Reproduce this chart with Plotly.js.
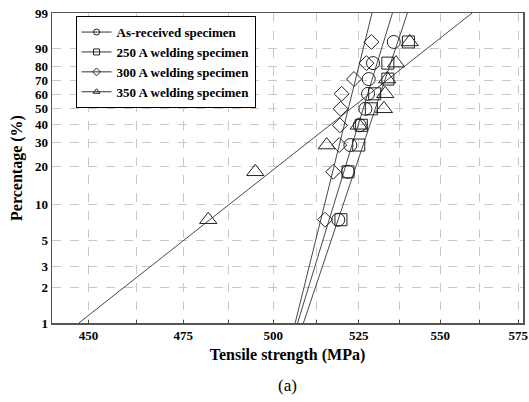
<!DOCTYPE html>
<html>
<head>
<meta charset="utf-8">
<script src="https://cdn.plot.ly/plotly-3.0.1.min.js"></script>
<style>html,body{margin:0;padding:0;background:#fff;}#chart{width:529px;height:402px;}</style>
</head>
<body>
<div id="chart"></div>
<script>
// Median ranks (%) of the nine specimens in each group
const ranks = [7.45, 18.09, 28.72, 39.36, 50, 60.64, 71.28, 81.91, 92.55];
// Tensile strength (MPa) per group, sorted
const asReceived = [518.9, 521.8, 522.5, 525.3, 527.0, 527.8, 528.0, 529.3, 535.6];
const weld250 = [519.7, 521.8, 525.0, 525.8, 528.8, 529.8, 533.8, 533.8, 540.1];
const weld300 = [515.0, 517.4, 519.2, 519.4, 519.6, 519.9, 523.6, 527.3, 528.8];
const weld350 = [481.8, 494.9, 515.5, 525.0, 532.6, 533.0, 533.6, 536.3, 540.5];
// Fitted Weibull lines: strength at 1 % and at 99 %
const fitPct = [1, 99];
const fitAsReceived = [507.0, 535.2];
const fit250 = [508.7, 539.8];
const fit300 = [506.3, 529.0];
const fit350 = [447.5, 560.1];
// Axis ticks
const pctTicks = [1, 2, 3, 5, 10, 20, 30, 40, 50, 60, 70, 80, 90, 99];
const strengthTicks = [450, 462.5, 475, 487.5, 500, 512.5, 525, 537.5, 550, 562.5, 575];
const strengthLabels = ['450', '', '475', '', '500', '', '525', '', '550', '', '575'];
const seriesNames = ['As-received specimen', '250 A welding specimen', '300 A welding specimen', '350 A welding specimen'];

const wb = p => Math.log(-Math.log(1 - p / 100));
const ink = '#222';
const lineInk = '#333';
const serif = 'Liberation Serif';

const groups = [
  {name: seriesNames[0], x: asReceived, fit: fitAsReceived, symbol: 'circle-open', size: 13},
  {name: seriesNames[1], x: weld250, fit: fit250, symbol: 'square-open', size: 12},
  {name: seriesNames[2], x: weld300, fit: fit300, symbol: 'diamond-open', size: 11.5},
  {name: seriesNames[3], x: weld350, fit: fit350, symbol: 'triangle-up-open', size: 15}
];

const traces = [];
groups.forEach(g => {
  traces.push({
    x: g.fit, y: fitPct.map(wb), mode: 'lines', showlegend: false, hoverinfo: 'skip',
    line: {color: lineInk, width: 0.9}
  });
  traces.push({
    x: g.x, y: ranks.map(wb), mode: 'markers', showlegend: false, name: g.name,
    marker: {symbol: g.symbol, size: g.size, color: ink, line: {color: ink, width: 1}}
  });
});
// legend entries
groups.forEach(g => {
  traces.push({
    x: [null], y: [null], mode: 'lines+markers', name: g.name, showlegend: true,
    line: {color: lineInk, width: 1},
    marker: {symbol: g.symbol, size: 6, color: ink, line: {color: ink, width: 1}}
  });
});

const layout = {
  width: 529, height: 402,
  margin: {l: 52, r: 6, t: 13, b: 79},
  paper_bgcolor: '#fff', plot_bgcolor: '#fff',
  font: {family: serif, color: '#000'},
  showlegend: true,
  legend: {
    x: 0.05, y: 0.99, xanchor: 'left', yanchor: 'top',
    bordercolor: '#000', borderwidth: 1, bgcolor: '#fff',
    font: {family: serif, size: 13, weight: 'bold', color: '#000'},
    tracegroupgap: 0, entrywidth: 150
  },
  xaxis: {
    type: 'log',
    range: [Math.log10(440.7), Math.log10(576.6)],
    tickmode: 'array', tickvals: strengthTicks, ticktext: strengthLabels,
    ticks: 'inside', ticklen: 3, tickcolor: '#444',
    ticklabeloverflow: 'allow',
    showgrid: true, gridcolor: '#c8c8c8', griddash: 'dash', gridwidth: 1,
    showline: true, linecolor: '#555', linewidth: 1.5, mirror: true,
    zeroline: false,
    tickfont: {family: serif, size: 13, weight: 'bold', color: '#000'},
    title: {text: 'Tensile strength (MPa)', standoff: 6,
            font: {family: serif, size: 16, weight: 'bold', color: '#000'}}
  },
  yaxis: {
    range: [wb(1), wb(99)],
    tickmode: 'array', tickvals: pctTicks.map(wb), ticktext: pctTicks.map(String),
    ticks: '', showgrid: true, gridcolor: '#c8c8c8', griddash: 'dash', gridwidth: 1,
    showline: true, linecolor: '#555', linewidth: 1.5, mirror: true,
    zeroline: false,
    tickfont: {family: serif, size: 13, weight: 'bold', color: '#000'},
    title: {text: 'Percentage (%)', standoff: 8,
            font: {family: serif, size: 16, weight: 'bold', color: '#000'}}
  },
  annotations: [{
    text: '(a)', xref: 'paper', yref: 'paper', x: 0.5, y: -0.2,
    xanchor: 'center', yanchor: 'middle', showarrow: false,
    font: {family: serif, size: 17, color: '#000'}
  }]
};

Plotly.newPlot('chart', traces, layout, {displayModeBar: false, staticPlot: true});
</script>
</body>
</html>
